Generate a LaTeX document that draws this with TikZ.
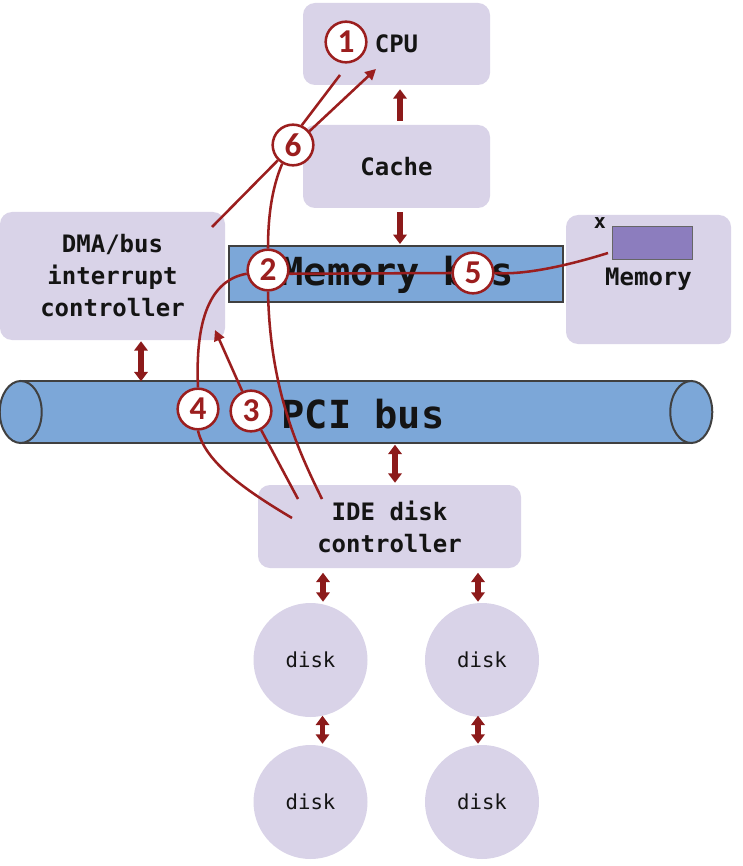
\documentclass[tikz,border=0pt]{standalone}
\usepackage{fontspec}
\setmonofont{DejaVu Sans Mono}
\newfontfamily\numfont{Carlito}
\usetikzlibrary{arrows.meta,calc}
\definecolor{boxfill}{RGB}{217,211,232}
\definecolor{busblue}{RGB}{124,167,216}
\definecolor{busedge}{RGB}{64,64,64}
\definecolor{darkred}{RGB}{140,26,26}
\definecolor{linered}{RGB}{155,30,30}
\definecolor{memcell}{RGB}{140,125,190}
\definecolor{txt}{RGB}{20,20,20}
\begin{document}
\begin{tikzpicture}[x=0.75pt,y=-0.75pt,
  box/.style={rectangle, rounded corners=9pt, fill=boxfill, draw=none, inner sep=0pt,
    align=center, text=txt, font=\ttfamily\bfseries\fontsize{18}{24}\selectfont},
  diskc/.style={circle, fill=boxfill, draw=none, minimum size=85.5pt, inner sep=0pt,
    text=txt, font=\ttfamily\fontsize{15.5}{18}\selectfont},
  bigtxt/.style={text=txt, font=\ttfamily\bfseries\fontsize{29}{30}\selectfont, inner sep=0pt},
  numc/.style={circle, draw=linered, line width=1.9pt, fill=white, minimum size=30.5pt,
    inner sep=0pt, text=linered, font=\numfont\bfseries\fontsize{25}{25}\selectfont},
  redline/.style={draw=linered, line width=1.9pt},
  redarr/.style={redline, -{Triangle[width=8pt,length=8pt]}},
  bigone/.style={draw=darkred, line width=3.9pt, -{Triangle[width=10pt,length=7pt]}},
  bigtwo/.style={draw=darkred, line width=3.9pt,
    {Triangle[width=10pt,length=7pt]}-{Triangle[width=10pt,length=7pt]}}
]
\fill[white] (0,0) rectangle (742,866);
\useasboundingbox (0,0) rectangle (742,866);

% boxes
\node[box, minimum width=140.25pt, minimum height=61.5pt] (cpu) at (396.5,44) {CPU};
\node[box, minimum width=140.25pt, minimum height=62.25pt] (cache) at (396.5,166.5) {Cache};
\node[box, minimum width=168.75pt, minimum height=96pt] (dma) at (112.5,276) {DMA/bus\\interrupt\\controller};
\node[box, minimum width=123.75pt, minimum height=96.75pt] (mem) at (648.5,279.5) {\raisebox{-1.5pt}{Memory}};
\node[box, minimum width=197.25pt, minimum height=62.25pt] (ide) at (389.5,526.5) {IDE disk\\controller};

% memory cell
\node[rectangle, fill=memcell, draw=busedge!80, line width=0.6pt, minimum width=60pt,
  minimum height=24.75pt, inner sep=0pt] (cell) at (652,242.5) {};
\node[text=txt, font=\ttfamily\bfseries\fontsize{15}{15}\selectfont, inner sep=0pt] (xlab) at (600,223) {x};

% disks
\node[diskc] (d1) at (310.5,660) {disk};
\node[diskc] (d2) at (482,660) {disk};
\node[diskc] (d3) at (310.5,802) {disk};
\node[diskc] (d4) at (482,802) {disk};

% memory bus
\node[rectangle, fill=busblue, draw=busedge, line width=1.5pt, minimum width=250.5pt,
  minimum height=42pt, inner sep=0pt] (membus) at (396,274) {};
\node[bigtxt] (membuslab) at (397,275) {Memory bus};

% PCI bus cylinder
\node[rectangle, fill=busblue, draw=none, minimum width=502.5pt, minimum height=46.5pt,
  inner sep=0pt] (pci) at (356,412) {};
\draw[busedge, line width=1.5pt] (pci.north west) -- (pci.north east);
\draw[busedge, line width=1.5pt] (pci.south west) -- (pci.south east);
\draw[busedge, line width=1.5pt, fill=busblue] (pci.west) ellipse [x radius=15.75pt, y radius=23.25pt];
\draw[busedge, line width=1.5pt, fill=busblue] (pci.east) ellipse [x radius=15.75pt, y radius=23.25pt];
\node[bigtxt] (pcilab) at (363,414) {PCI bus};

% thick arrows
\draw[bigone] ($(cache.north)+(3.5,-4)$) -- ($(cpu.south)+(3.5,4)$);
\draw[bigone] ($(cache.south)+(3.5,4)$) -- ($(membus.north)+(4,-1)$);
\draw[bigtwo] ($(dma.south)+(28.5,1)$) -- ($(dma.south)+(28.5,41)$);
\draw[bigtwo] ($(ide.north)+(5.5,-2)$) -- ($(ide.north)+(5.5,-40)$);
\draw[bigtwo] ($(d1.north)+(12.5,-1)$) -- ($(d1.north)+(12.5,-30)$);
\draw[bigtwo] ($(d2.north)+(-4,-1)$) -- ($(d2.north)+(-4,-30)$);
\draw[bigtwo] ($(d3.north)+(12,-1)$) -- ($(d3.north)+(12,-29)$);
\draw[bigtwo] ($(d4.north)+(-4,-1)$) -- ($(d4.north)+(-4,-29)$);

% numbered circles
\node[numc] (c1) at (346,42) {1};
\node[numc] (c6) at (293,145) {6};
\node[numc] (c2) at (268,270) {2};
\node[numc] (c5) at (473,273) {5};
\node[numc] (c4) at (198,409) {4};
\node[numc] (c3) at (251,411) {3};

% free ends
\coordinate (dmaE) at (212,227);
\coordinate (cpuA) at (340,75);
\coordinate (cpuB) at (376,69);
\coordinate (ideA) at (292,518);
\coordinate (ideB) at (322,499);
\coordinate (ideC) at (298,499);
\coordinate (memL) at (608,253);
\coordinate (dmaArr) at (215,330);

% thin red connectors
\draw[redline] (dmaE) -- (c6);
\draw[redline] (c6.66) -- (cpuA);
\draw[redarr] (c6.40) -- (cpuB);
\draw[redline] (c6.240) .. controls (271,190) and (268,220) .. (c2.north);
\draw[redline] (c2.south) .. controls (270,390) and (298,450) .. (ideB);
\draw[redline] (memL) .. controls (560,268) and (520,275) .. (c5.east);
\draw[redline] (c5.west) -- (c2.-10);
\draw[redline] (c2.190) .. controls (210,280) and (195,320) .. (c4.north);
\draw[redline] (c4.south) .. controls (205,462) and (245,490) .. (ideA);
\draw[redline] (ideC) -- (c3);
\draw[redarr] (c3) -- (dmaArr);
\end{tikzpicture}
\end{document}
